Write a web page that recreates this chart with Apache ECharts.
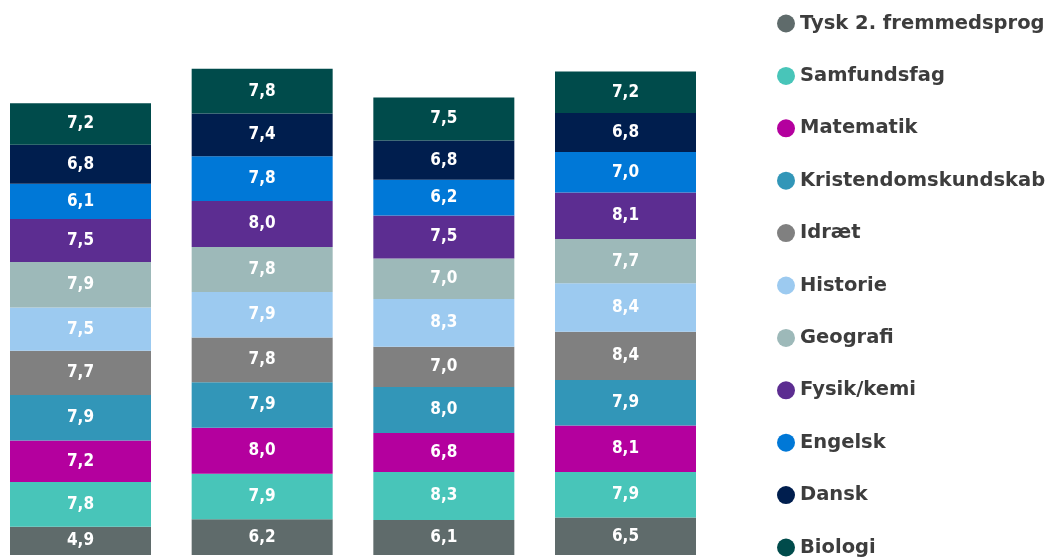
<!DOCTYPE html>
<html>
<head>
<meta charset="utf-8">
<script src="https://cdn.jsdelivr.net/npm/echarts@6/dist/echarts.min.js"></script>
<style>
  html, body { margin: 0; padding: 0; background: #fff; }
  #chart { width: 1052px; height: 557px; }
</style>
</head>
<body>
<div id="chart"></div>
<script>
// fire bars, stacked bottom -> top
var categories = ['A', 'B', 'C', 'D'];

var subjects = ['Tysk 2. fremmedsprog', 'Samfundsfag', 'Matematik', 'Kristendomskundskab',
  'Idræt', 'Historie', 'Geografi', 'Fysik/kemi', 'Engelsk', 'Dansk', 'Biologi'];

var colors = ['#5f6b6b', '#48c5b9', '#b4009e', '#3296b8', '#808080', '#9ccaf0',
  '#9db9b9', '#5c2d91', '#0078d7', '#001e4e', '#004b4b'];

var tysk        = [4.9, 6.2, 6.1, 6.5];
var samfundsfag = [7.8, 7.9, 8.3, 7.9];
var matematik   = [7.2, 8.0, 6.8, 8.1];
var kristendom  = [7.9, 7.9, 8.0, 7.9];
var idraet      = [7.7, 7.8, 7.0, 8.4];
var historie    = [7.5, 7.9, 8.3, 8.4];
var geografi    = [7.9, 7.8, 7.0, 7.7];
var fysik       = [7.5, 8.0, 7.5, 8.1];
var engelsk     = [6.1, 7.8, 6.2, 7.0];
var dansk       = [6.8, 7.4, 6.8, 6.8];
var biologi     = [7.2, 7.8, 7.5, 7.2];

var values = [tysk, samfundsfag, matematik, kristendom, idraet, historie,
  geografi, fysik, engelsk, dansk, biologi];

var myChart = echarts.init(document.getElementById('chart'));

var series = subjects.map(function (name, i) {
  return {
    name: name,
    type: 'bar',
    stack: 'total',
    barWidth: 141,
    clip: false,
    data: values[i],
    itemStyle: { color: colors[i] },
    label: {
      show: true,
      position: 'inside',
      color: '#fff',
      fontSize: 17,
      fontWeight: 'bold',
      fontFamily: 'DejaVu Sans Condensed',
      formatter: function (p) { return p.value.toFixed(1).replace('.', ','); }
    }
  };
});

var option = {
  animation: false,
  color: colors,
  grid: { left: 80.5, right: 426.5, top: 37, bottom: 2 },
  xAxis: {
    type: 'category',
    boundaryGap: false,
    data: categories,
    show: false
  },
  yAxis: {
    type: 'value',
    min: 0,
    max: 90,
    show: false
  },
  legend: {
    orient: 'vertical',
    left: 777,
    top: 13.5,
    height: 600,
    padding: 0,
    icon: 'circle',
    itemWidth: 18,
    itemHeight: 18,
    itemGap: 32.4,
    data: subjects,
    textStyle: {
      color: '#3d3d3d',
      fontSize: 19.5,
      fontWeight: 'bold',
      lineHeight: 18,
      fontFamily: 'DejaVu Sans'
    }
  },
  series: series
};

myChart.setOption(option);
</script>
</body>
</html>
